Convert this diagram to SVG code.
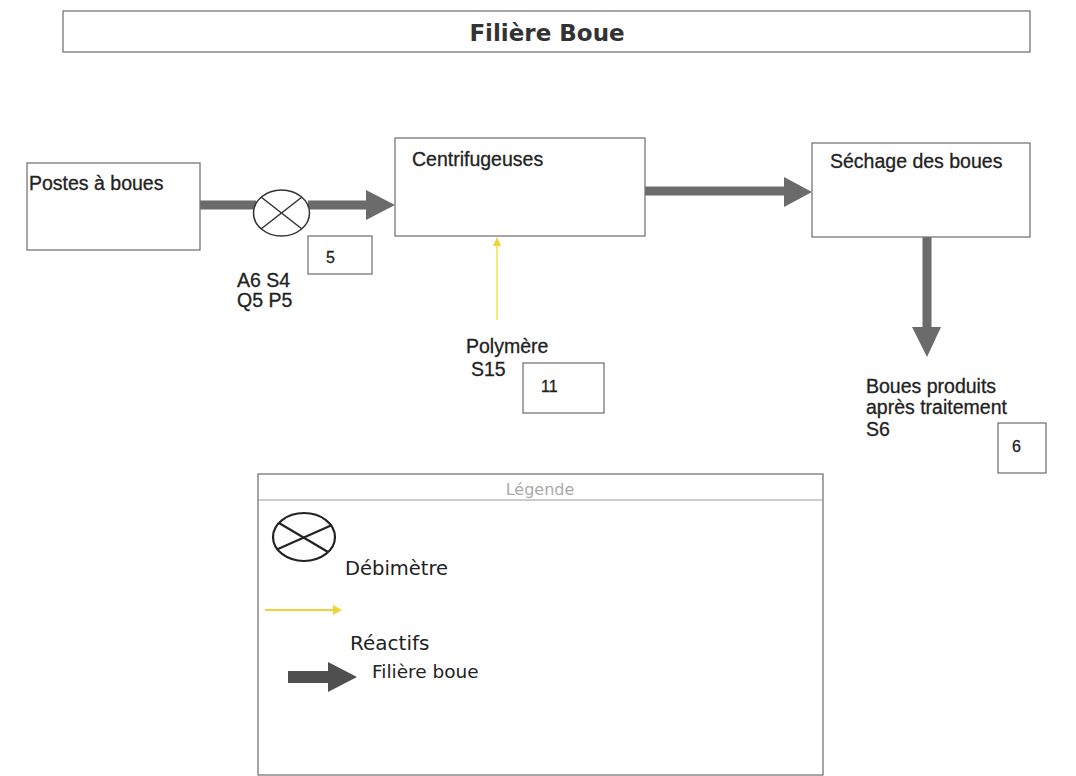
<svg xmlns="http://www.w3.org/2000/svg" width="1076" height="776" viewBox="0 0 1076 776">
<defs>
<style>
.box{fill:#fff;stroke:#777;stroke-width:1.3}
.lbl{font-family:"Liberation Sans",Arial,sans-serif;font-size:19.5px;fill:#222;stroke:#222;stroke-width:0.3}
.num{font-family:"Liberation Sans",Arial,sans-serif;font-size:16px;fill:#222;stroke:#222;stroke-width:0.3}
.leg{font-family:"DejaVu Sans",sans-serif;fill:#222}
.flow{stroke:#6b6b6b;stroke-width:9;fill:none}
.head{fill:#6b6b6b}
.meter{fill:#fff;stroke:#333;stroke-width:1.5}
</style>
</defs>
<rect width="1076" height="776" fill="#fff"/>
<g id="title">
<rect class="box" x="63" y="11" width="967" height="41" stroke="#aaa"/>
<text x="547" y="41" text-anchor="middle" font-family="'DejaVu Sans',sans-serif" font-weight="bold" font-size="23" fill="#333">Filière Boue</text>
</g>
<g id="connectors">
<line class="flow" x1="200" y1="205" x2="256" y2="205"/>
<line class="flow" x1="308" y1="205" x2="370" y2="205"/>
<polygon class="head" points="366,190 395,205 366,220"/>
<line class="flow" x1="645" y1="191" x2="788" y2="191"/>
<polygon class="head" points="784,177 812,192 784,207"/>
<line class="flow" x1="927" y1="237" x2="927" y2="330"/>
<polygon class="head" points="912,327 927,357 941,327"/>
<line x1="497" y1="320" x2="497" y2="245" stroke="#f2e24a" stroke-width="1.5"/>
<polygon points="493,246 497,237 501,246" fill="#f2d23a"/>
</g>
<g id="postes">
<rect class="box" x="27" y="163" width="173" height="87"/>
<text class="lbl" x="29" y="190">Postes à boues</text>
</g>
<g id="debimetre">
<ellipse class="meter" cx="281.5" cy="213" rx="28" ry="23"/>
<line x1="261" y1="197" x2="302" y2="229" stroke="#333" stroke-width="1.5"/>
<line x1="261" y1="229" x2="302" y2="197" stroke="#333" stroke-width="1.5"/>
<text class="lbl" x="237" y="287">A6 S4</text>
<text class="lbl" x="237" y="307">Q5 P5</text>
</g>
<g id="n5">
<rect class="box" x="308" y="236" width="64" height="38" stroke="#444"/>
<text class="num" x="326" y="263">5</text>
</g>
<g id="centrifugeuses">
<rect class="box" x="395" y="138" width="250" height="98"/>
<text class="lbl" x="412" y="166">Centrifugeuses</text>
</g>
<g id="sechage">
<rect class="box" x="812" y="143" width="218" height="94"/>
<text class="lbl" x="830" y="168">Séchage des boues</text>
</g>
<g id="polymere">
<text class="lbl" x="466" y="353">Polymère</text>
<text class="lbl" x="471" y="376">S15</text>
</g>
<g id="n11">
<rect class="box" x="523" y="363" width="81" height="50" stroke="#444"/>
<text class="num" x="541" y="392">11</text>
</g>
<g id="boues-produits">
<text class="lbl" x="866" y="393">Boues produits</text>
<text class="lbl" x="866" y="414">après traitement</text>
<text class="lbl" x="866" y="436">S6</text>
</g>
<g id="n6">
<rect class="box" x="998" y="423" width="48" height="50" stroke="#444"/>
<text class="num" x="1012" y="452">6</text>
</g>
<g id="legende">
<rect class="box" x="258" y="474" width="565" height="301" stroke="#888"/>
<line x1="258" y1="500" x2="823" y2="500" stroke="#999" stroke-width="1"/>
<text x="540" y="495" text-anchor="middle" font-family="'DejaVu Sans',sans-serif" font-size="16" fill="#aaa">Légende</text>
<ellipse cx="304" cy="537" rx="31" ry="24" fill="#fff" stroke="#222" stroke-width="2.2"/>
<line x1="279" y1="523" x2="328" y2="552" stroke="#222" stroke-width="2.2"/>
<line x1="278" y1="549" x2="332" y2="525" stroke="#222" stroke-width="2.2"/>
<text class="leg" x="345" y="575" font-size="19.5">Débimètre</text>
<line x1="265" y1="610" x2="334" y2="610" stroke="#f2d23a" stroke-width="2"/>
<polygon points="333,605 342,610 333,615" fill="#f2d23a"/>
<text class="leg" x="350" y="650" font-size="20">Réactifs</text>
<line x1="288" y1="677" x2="331" y2="677" stroke="#4f4f4f" stroke-width="12"/>
<polygon points="328,662 357,677 328,692" fill="#4f4f4f"/>
<text class="leg" x="372" y="678" font-size="18.5">Filière boue</text>
</g>
</svg>
